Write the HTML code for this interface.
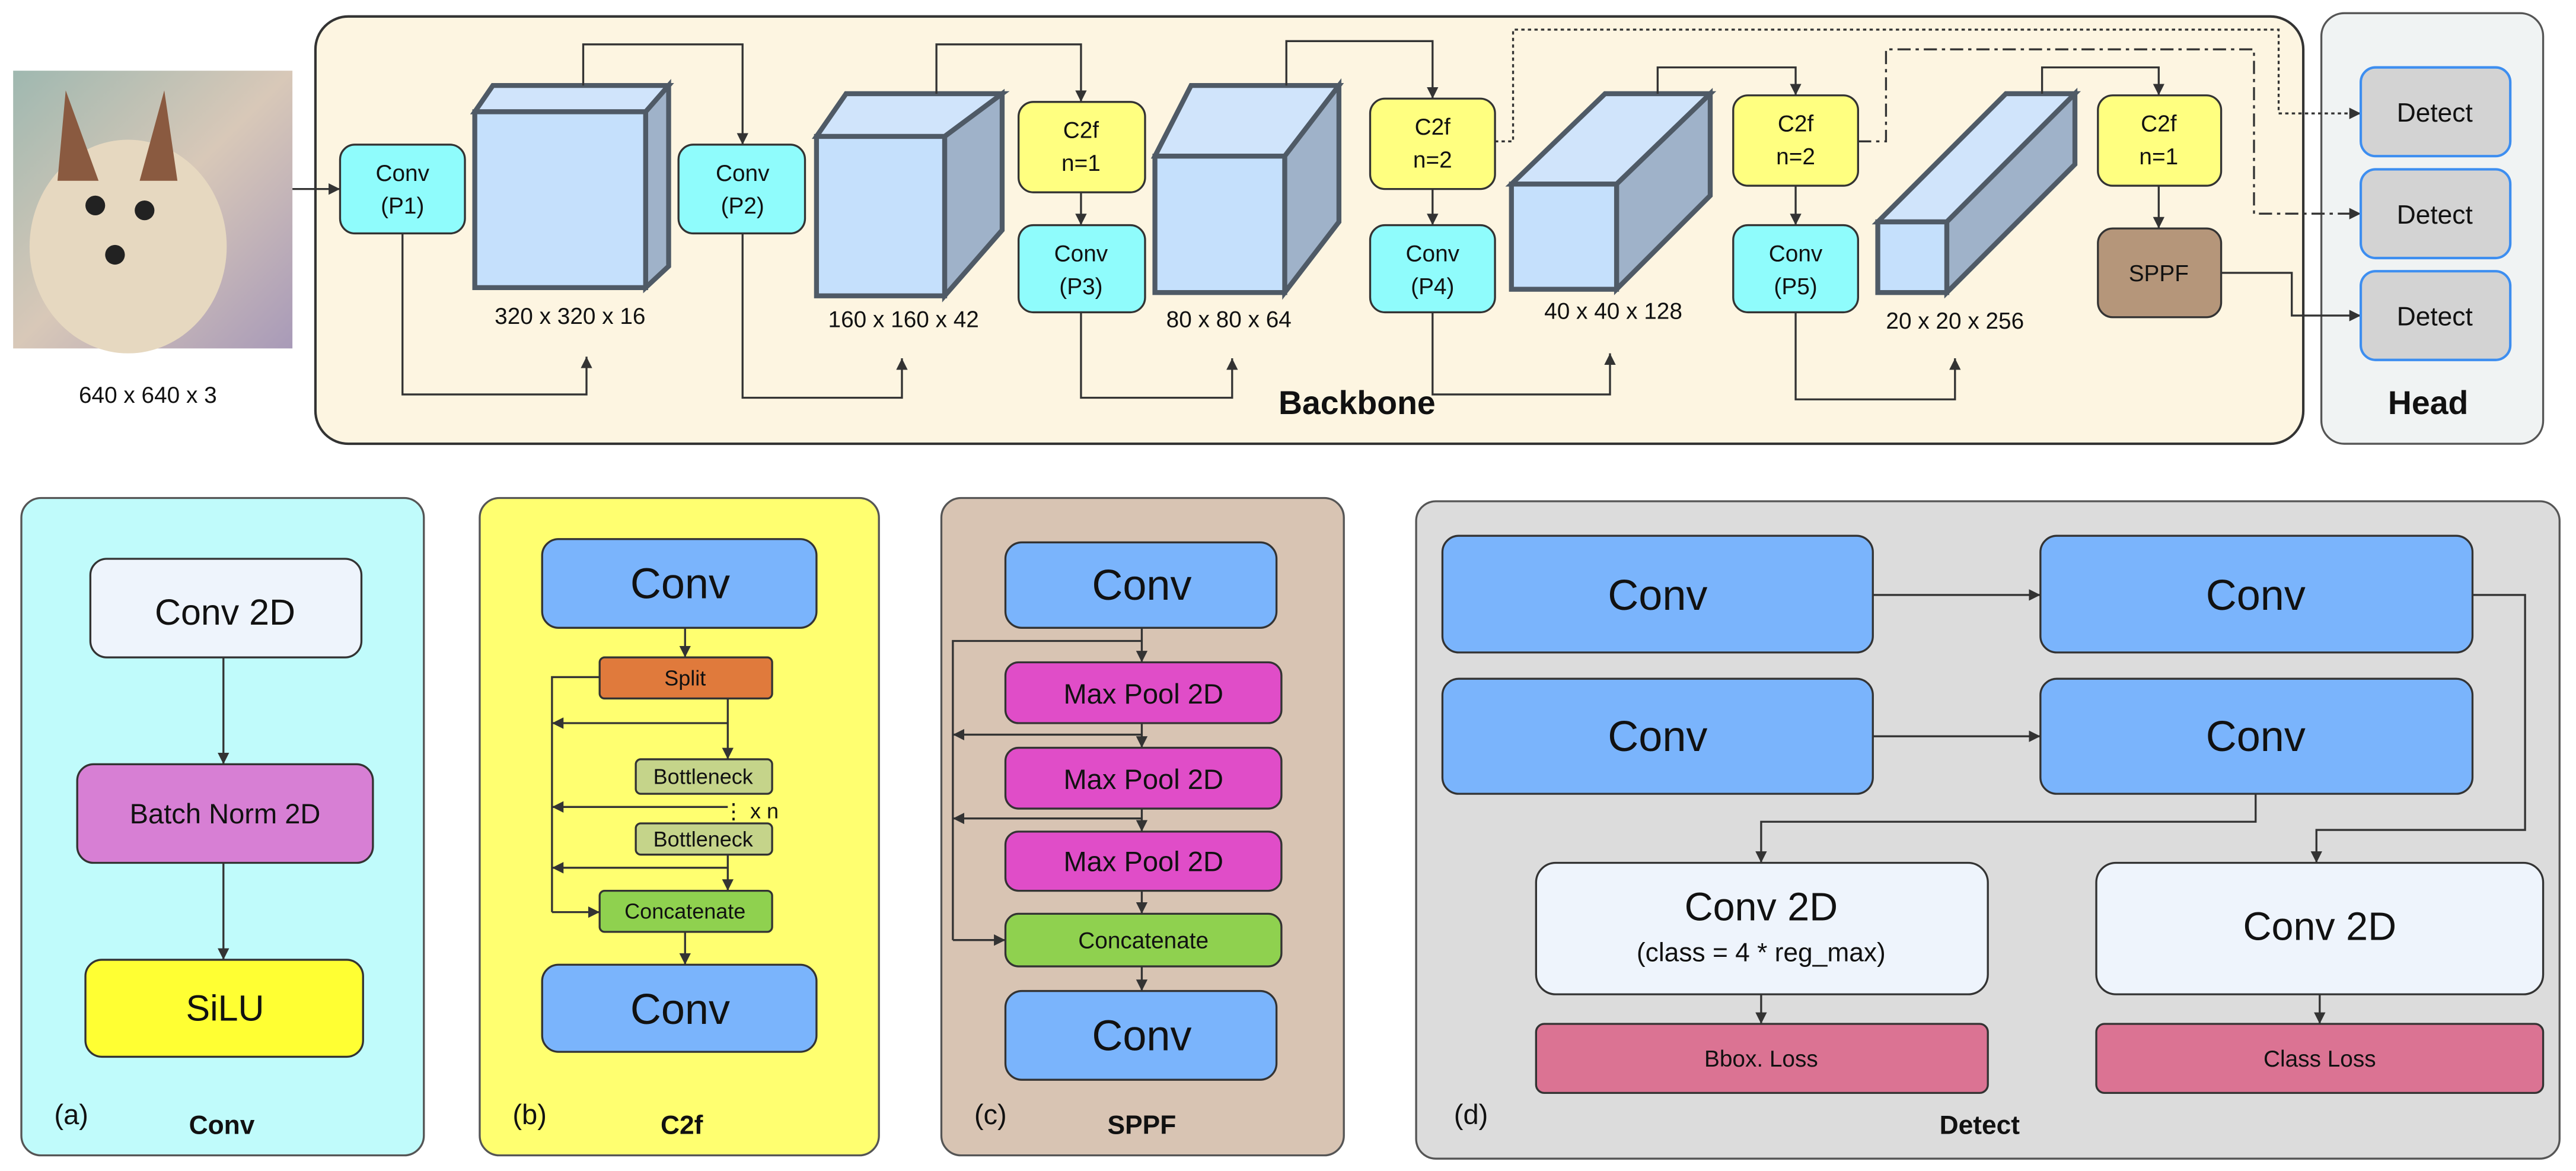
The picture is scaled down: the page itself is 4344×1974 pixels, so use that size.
<!DOCTYPE html>
<html><head><meta charset="utf-8"><style>
html,body{margin:0;padding:0;background:#fff}
svg{display:block}
text{font-family:"Liberation Sans",Arial,sans-serif;fill:#111}
</style></head><body>
<svg width="4344" height="1974" viewBox="0 0 1568 712.5" xmlns="http://www.w3.org/2000/svg">
<defs>
<marker id="a" viewBox="0 0 10 10" refX="10" refY="5" markerWidth="7" markerHeight="7" orient="auto" markerUnits="userSpaceOnUse"><path d="M0,0L10,5L0,10z" fill="#333"/></marker>
<linearGradient id="dog" x1="0" y1="0" x2="1" y2="1"><stop offset="0" stop-color="#9fb8b0"/><stop offset="0.5" stop-color="#d8c8b8"/><stop offset="1" stop-color="#a89ab8"/></linearGradient>
</defs>
<!-- dog image -->
<rect x="8" y="43" width="170" height="169" fill="url(#dog)"/>
<ellipse cx="78" cy="150" rx="60" ry="65" fill="#e6d8c0"/>
<path d="M40,55 L60,110 L35,110z M100,55 L108,110 L85,110z" fill="#8a5a40"/>
<circle cx="58" cy="125" r="6" fill="#222"/><circle cx="88" cy="128" r="6" fill="#222"/><circle cx="70" cy="155" r="6" fill="#222"/>
<text x="90" y="245" font-size="14" text-anchor="middle">640 x 640 x 3</text>

<!-- backbone -->
<rect x="192" y="10" width="1210" height="260" rx="20" fill="#fdf5e1" stroke="#333" stroke-width="1.5"/>
<rect x="1413" y="8" width="135" height="262" rx="14" fill="#f0f3f3" stroke="#555" stroke-width="1.2"/>
<text x="826" y="252" font-size="20" font-weight="bold" text-anchor="middle" fill="#333">Backbone</text>
<text x="1478" y="252" font-size="20" font-weight="bold" text-anchor="middle" fill="#333">Head</text>

<g stroke="#4f5a66" stroke-width="3" stroke-linejoin="miter">
<!-- cube1 -->
<polygon points="289,68 300,52 407,52 393,68" fill="#d0e4fb"/>
<polygon points="393,68 407,52 407,162 393,175" fill="#9fb2c9"/>
<rect x="289" y="68" width="104" height="107" fill="#c5e0fc"/>
<!-- cube2 -->
<polygon points="497,83 515,57 610,57 575,83" fill="#d0e4fb"/>
<polygon points="575,83 610,57 610,140 575,180" fill="#9fb2c9"/>
<rect x="497" y="83" width="78" height="97" fill="#c5e0fc"/>
<!-- cube3 -->
<polygon points="703,95 725,52 815,52 782,95" fill="#d0e4fb"/>
<polygon points="782,95 815,52 815,135 782,178" fill="#9fb2c9"/>
<rect x="703" y="95" width="79" height="83" fill="#c5e0fc"/>
<!-- cube4 -->
<polygon points="920,112 977,57 1041,57 984,112" fill="#d0e4fb"/>
<polygon points="984,112 1041,57 1041,119 984,176" fill="#9fb2c9"/>
<rect x="920" y="112" width="64" height="64" fill="#c5e0fc"/>
<!-- cube5 -->
<polygon points="1143,135 1221,57 1263,57 1185,135" fill="#d0e4fb"/>
<polygon points="1185,135 1263,57 1263,100 1185,178" fill="#9fb2c9"/>
<rect x="1143" y="135" width="42" height="43" fill="#c5e0fc"/>
</g>
<g font-size="14" text-anchor="middle">
<text x="347" y="197">320 x 320 x 16</text>
<text x="550" y="199">160 x 160 x 42</text>
<text x="748" y="199">80 x 80 x 64</text>
<text x="982" y="194">40 x 40 x 128</text>
<text x="1190" y="200">20 x 20 x 256</text>
</g>

<!-- connectors -->
<g fill="none" stroke="#333" stroke-width="1.2" marker-end="url(#a)">
<path d="M178,115 H207"/>
<path d="M355,52 V27 H452 V88"/>
<path d="M570,57 V27 H658 V62"/>
<path d="M783,52 V25 H872 V60"/>
<path d="M1009,57 V41 H1093 V58"/>
<path d="M1243,57 V41 H1314 V58"/>
<path d="M658,117 V137"/><path d="M872,115 V137"/><path d="M1093,113 V137"/><path d="M1314,113 V139"/>
<path d="M245,142 V240 H357 V217"/>
<path d="M452,142 V242 H549 V218"/>
<path d="M658,190 V242 H750 V218"/>
<path d="M872,190 V240 H980 V215"/>
<path d="M1093,190 V243 H1190 V218"/>
<path d="M1352,166 H1395 V192 H1437"/>
<path d="M910,86 H921 V18 H1387 V69 H1437" stroke-dasharray="2,2"/>
<path d="M1131,86 H1148 V30 H1372 V130 H1437" stroke-dasharray="8,3,2,3"/>
</g>

<!-- backbone nodes -->
<g stroke="#333" stroke-width="1.2">
<rect x="207" y="88" width="76" height="54" rx="9" fill="#8ffcfc"/>
<rect x="413" y="88" width="77" height="54" rx="9" fill="#8ffcfc"/>
<rect x="620" y="62" width="77" height="55" rx="9" fill="#ffff80"/>
<rect x="620" y="137" width="77" height="53" rx="9" fill="#8ffcfc"/>
<rect x="834" y="60" width="76" height="55" rx="9" fill="#ffff80"/>
<rect x="834" y="137" width="76" height="53" rx="9" fill="#8ffcfc"/>
<rect x="1055" y="58" width="76" height="55" rx="9" fill="#ffff80"/>
<rect x="1055" y="137" width="76" height="53" rx="9" fill="#8ffcfc"/>
<rect x="1277" y="58" width="75" height="55" rx="9" fill="#ffff80"/>
<rect x="1277" y="139" width="75" height="54" rx="9" fill="#b5967a"/>
</g>
<g stroke="#3d8ef0" stroke-width="1.5" fill="#d3d3d3">
<rect x="1437" y="41" width="91" height="54" rx="9"/>
<rect x="1437" y="103" width="91" height="54" rx="9"/>
<rect x="1437" y="165" width="91" height="54" rx="9"/>
</g>
<g font-size="14" text-anchor="middle">
<text x="245" y="110">Conv</text><text x="245" y="130">(P1)</text>
<text x="452" y="110">Conv</text><text x="452" y="130">(P2)</text>
<text x="658" y="84">C2f</text><text x="658" y="104">n=1</text>
<text x="658" y="159">Conv</text><text x="658" y="179">(P3)</text>
<text x="872" y="82">C2f</text><text x="872" y="102">n=2</text>
<text x="872" y="159">Conv</text><text x="872" y="179">(P4)</text>
<text x="1093" y="80">C2f</text><text x="1093" y="100">n=2</text>
<text x="1093" y="159">Conv</text><text x="1093" y="179">(P5)</text>
<text x="1314" y="80">C2f</text><text x="1314" y="100">n=1</text>
<text x="1314" y="171">SPPF</text>
<text x="1482" y="74" font-size="16">Detect</text>
<text x="1482" y="136" font-size="16">Detect</text>
<text x="1482" y="198" font-size="16">Detect</text>
</g>

<!-- (a) -->
<rect x="13" y="303" width="245" height="400" rx="12" fill="#c0fbfb" stroke="#555" stroke-width="1.2"/>
<g fill="none" stroke="#333" stroke-width="1.2" marker-end="url(#a)">
<path d="M136,400 V465"/><path d="M136,525 V584"/>
</g>
<g stroke="#333" stroke-width="1.2">
<rect x="55" y="340" width="165" height="60" rx="10" fill="#eef4fc"/>
<rect x="47" y="465" width="180" height="60" rx="10" fill="#d77fd4"/>
<rect x="52" y="584" width="169" height="59" rx="10" fill="#ffff33"/>
</g>
<text x="137" y="380" font-size="22" text-anchor="middle">Conv 2D</text>
<text x="137" y="501" font-size="17" text-anchor="middle">Batch Norm 2D</text>
<text x="137" y="621" font-size="22" text-anchor="middle">SiLU</text>
<text x="33" y="684" font-size="17">(a)</text>
<text x="135" y="690" font-size="16" font-weight="bold" text-anchor="middle">Conv</text>

<!-- (b) -->
<rect x="292" y="303" width="243" height="400" rx="12" fill="#ffff70" stroke="#555" stroke-width="1.2"/>
<g fill="none" stroke="#333" stroke-width="1.2">
<path d="M417,382 V400" marker-end="url(#a)"/>
<path d="M443,425 V462" marker-end="url(#a)"/>
<path d="M443,520 V542" marker-end="url(#a)"/>
<path d="M417,567 V587" marker-end="url(#a)"/>
<path d="M365,412 H336 V555"/>
<path d="M336,555 H365" marker-end="url(#a)"/>
<path d="M443,440 H336" marker-end="url(#a)"/>
<path d="M443,491 H336" marker-end="url(#a)"/>
<path d="M443,528 H336" marker-end="url(#a)"/>
</g>
<g stroke="#333" stroke-width="1.2">
<rect x="330" y="328" width="167" height="54" rx="10" fill="#7ab4fc"/>
<rect x="365" y="400" width="105" height="25" rx="3" fill="#e07a3c"/>
<rect x="387" y="462" width="83" height="21" rx="3" fill="#c5d48a"/>
<rect x="387" y="501" width="83" height="19" rx="3" fill="#c5d48a"/>
<rect x="365" y="542" width="105" height="25" rx="3" fill="#8fd14f"/>
<rect x="330" y="587" width="167" height="53" rx="10" fill="#7ab4fc"/>
</g>
<text x="414" y="364" font-size="26" text-anchor="middle">Conv</text>
<text x="417" y="417" font-size="13" text-anchor="middle">Split</text>
<text x="428" y="477" font-size="13" text-anchor="middle">Bottleneck</text>
<text x="440" y="498" font-size="13">⋮ x n</text>
<text x="428" y="515" font-size="13" text-anchor="middle">Bottleneck</text>
<text x="417" y="559" font-size="13" text-anchor="middle">Concatenate</text>
<text x="414" y="623" font-size="26" text-anchor="middle">Conv</text>
<text x="312" y="684" font-size="17">(b)</text>
<text x="415" y="690" font-size="16" font-weight="bold" text-anchor="middle">C2f</text>

<!-- (c) -->
<rect x="573" y="303" width="245" height="400" rx="12" fill="#d8c4b3" stroke="#555" stroke-width="1.2"/>
<g fill="none" stroke="#333" stroke-width="1.2">
<path d="M695,382 V403" marker-end="url(#a)"/>
<path d="M695,440 V455" marker-end="url(#a)"/>
<path d="M695,492 V506" marker-end="url(#a)"/>
<path d="M695,542 V556" marker-end="url(#a)"/>
<path d="M695,588 V603" marker-end="url(#a)"/>
<path d="M695,390 H580 V572"/>
<path d="M580,572 H612" marker-end="url(#a)"/>
<path d="M695,447 H580" marker-end="url(#a)"/>
<path d="M695,498 H580" marker-end="url(#a)"/>
</g>
<g stroke="#333" stroke-width="1.2">
<rect x="612" y="330" width="165" height="52" rx="10" fill="#7ab4fc"/>
<rect x="612" y="403" width="168" height="37" rx="8" fill="#e04dc8"/>
<rect x="612" y="455" width="168" height="37" rx="8" fill="#e04dc8"/>
<rect x="612" y="506" width="168" height="36" rx="8" fill="#e04dc8"/>
<rect x="612" y="556" width="168" height="32" rx="8" fill="#8fd14f"/>
<rect x="612" y="603" width="165" height="54" rx="10" fill="#7ab4fc"/>
</g>
<text x="695" y="365" font-size="26" text-anchor="middle">Conv</text>
<text x="696" y="428" font-size="17" text-anchor="middle">Max Pool 2D</text>
<text x="696" y="480" font-size="17" text-anchor="middle">Max Pool 2D</text>
<text x="696" y="530" font-size="17" text-anchor="middle">Max Pool 2D</text>
<text x="696" y="577" font-size="14" text-anchor="middle">Concatenate</text>
<text x="695" y="639" font-size="26" text-anchor="middle">Conv</text>
<text x="593" y="684" font-size="17">(c)</text>
<text x="695" y="690" font-size="16" font-weight="bold" text-anchor="middle">SPPF</text>

<!-- (d) -->
<rect x="862" y="305" width="696" height="400" rx="12" fill="#dcdcdc" stroke="#555" stroke-width="1.2"/>
<g fill="none" stroke="#333" stroke-width="1.2" marker-end="url(#a)">
<path d="M1140,362 H1242"/>
<path d="M1140,448 H1242"/>
<path d="M1505,362 H1537 V505 H1410 V525"/>
<path d="M1373,483 V500 H1072 V525"/>
<path d="M1072,605 V623"/>
<path d="M1412,605 V623"/>
</g>
<g stroke="#333" stroke-width="1.2">
<rect x="878" y="326" width="262" height="71" rx="10" fill="#7ab4fc"/>
<rect x="1242" y="326" width="263" height="71" rx="10" fill="#7ab4fc"/>
<rect x="878" y="413" width="262" height="70" rx="10" fill="#7ab4fc"/>
<rect x="1242" y="413" width="263" height="70" rx="10" fill="#7ab4fc"/>
<rect x="935" y="525" width="275" height="80" rx="12" fill="#eef4fc"/>
<rect x="1276" y="525" width="272" height="80" rx="12" fill="#eef4fc"/>
<rect x="935" y="623" width="275" height="42" rx="5" fill="#db7393"/>
<rect x="1276" y="623" width="272" height="42" rx="5" fill="#db7393"/>
</g>
<g text-anchor="middle">
<text x="1009" y="371" font-size="26">Conv</text>
<text x="1373" y="371" font-size="26">Conv</text>
<text x="1009" y="457" font-size="26">Conv</text>
<text x="1373" y="457" font-size="26">Conv</text>
<text x="1072" y="560" font-size="24">Conv 2D</text>
<text x="1072" y="585" font-size="16">(class = 4 * reg_max)</text>
<text x="1412" y="572" font-size="24">Conv 2D</text>
<text x="1072" y="649" font-size="14">Bbox. Loss</text>
<text x="1412" y="649" font-size="14">Class Loss</text>
</g>
<text x="885" y="684" font-size="17">(d)</text>
<text x="1205" y="690" font-size="16" font-weight="bold" text-anchor="middle">Detect</text>
</svg>
</body></html>
